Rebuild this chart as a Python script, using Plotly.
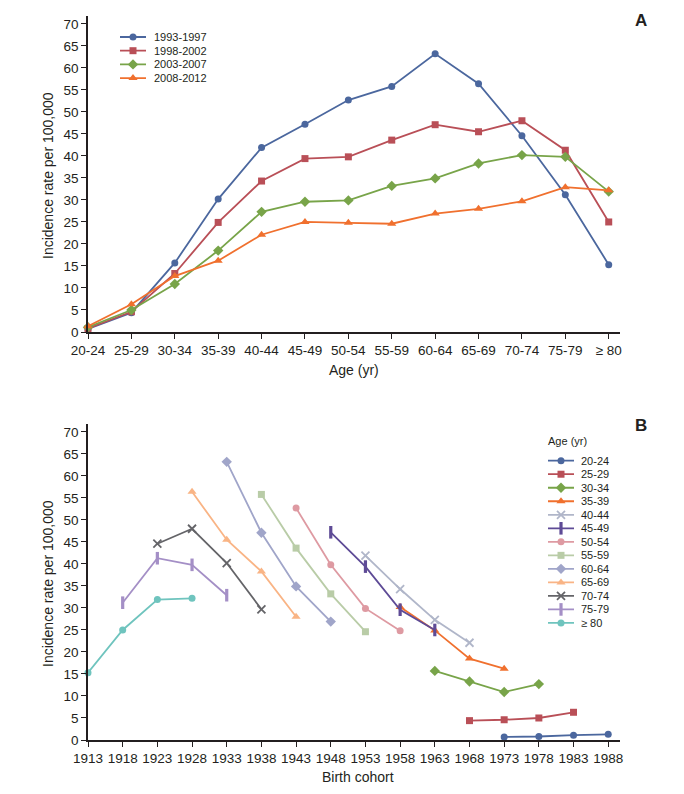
import plotly.graph_objects as go

W, H = 684, 794
FONT = "Liberation Sans, Arial, sans-serif"
AXIS_COLOR = "#231f20"
TEXT_COLOR = "#231f20"

# ---------------- Panel A data ----------------
age_groups = ["20-24", "25-29", "30-34", "35-39", "40-44", "45-49", "50-54",
              "55-59", "60-64", "65-69", "70-74", "75-79", "≥ 80"]
period_labels = ["1993-1997", "1998-2002", "2003-2007", "2008-2012"]
rate_1993_1997 = [0.7, 4.4, 15.7, 30.2, 41.9, 47.2, 52.7, 55.8, 63.2, 56.4, 44.6, 31.2, 15.3]
rate_1998_2002 = [0.8, 4.6, 13.3, 24.9, 34.3, 39.4, 39.8, 43.6, 47.1, 45.5, 48.0, 41.3, 25.0]
rate_2003_2007 = [1.1, 5.0, 10.9, 18.5, 27.3, 29.6, 29.9, 33.2, 34.9, 38.3, 40.2, 39.8, 31.9]
rate_2008_2012 = [1.3, 6.3, 12.7, 16.2, 22.1, 25.0, 24.8, 24.6, 26.9, 28.0, 29.7, 32.9, 32.2]
y_ticks = [0, 5, 10, 15, 20, 25, 30, 35, 40, 45, 50, 55, 60, 65, 70]

# ---------------- Panel B data ----------------
cohort_ticks = [1913, 1918, 1923, 1928, 1933, 1938, 1943, 1948, 1953, 1958,
                1963, 1968, 1973, 1978, 1983, 1988]
age_legend = ["20-24", "25-29", "30-34", "35-39", "40-44", "45-49", "50-54",
              "55-59", "60-64", "65-69", "70-74", "75-79", "≥ 80"]
cohort_20_24 = [1973, 1978, 1983, 1988]
rate_20_24 = [0.7, 0.8, 1.1, 1.3]
cohort_25_29 = [1968, 1973, 1978, 1983]
rate_25_29 = [4.4, 4.6, 5.0, 6.3]
cohort_30_34 = [1963, 1968, 1973, 1978]
rate_30_34 = [15.7, 13.3, 10.9, 12.7]
cohort_35_39 = [1958, 1963, 1968, 1973]
rate_35_39 = [30.2, 24.9, 18.5, 16.2]
cohort_40_44 = [1953, 1958, 1963, 1968]
rate_40_44 = [41.9, 34.3, 27.3, 22.1]
cohort_45_49 = [1948, 1953, 1958, 1963]
rate_45_49 = [47.2, 39.4, 29.6, 25.0]
cohort_50_54 = [1943, 1948, 1953, 1958]
rate_50_54 = [52.7, 39.8, 29.9, 24.8]
cohort_55_59 = [1938, 1943, 1948, 1953]
rate_55_59 = [55.8, 43.6, 33.2, 24.6]
cohort_60_64 = [1933, 1938, 1943, 1948]
rate_60_64 = [63.2, 47.1, 34.9, 26.9]
cohort_65_69 = [1928, 1933, 1938, 1943]
rate_65_69 = [56.4, 45.5, 38.3, 28.0]
cohort_70_74 = [1923, 1928, 1933, 1938]
rate_70_74 = [44.6, 48.0, 40.2, 29.7]
cohort_75_79 = [1918, 1923, 1928, 1933]
rate_75_79 = [31.2, 41.3, 39.8, 32.9]
cohort_80 = [1913, 1918, 1923, 1928]
rate_80 = [15.3, 25.0, 31.9, 32.2]

# ---------------- styles ----------------
period_styles = [
    dict(color="#4b679e", symbol="circle", size=7, lw=0),
    dict(color="#b94f57", symbol="square", size=7, lw=0),
    dict(color="#78a449", symbol="diamond", size=8, lw=0),
    dict(color="#f0702e", symbol="triangle-up", size=8, lw=0),
]
age_styles = [
    dict(color="#4b679e", symbol="circle", size=7, lw=0),
    dict(color="#b94f57", symbol="square", size=7, lw=0),
    dict(color="#78a449", symbol="diamond", size=8, lw=0),
    dict(color="#f0702e", symbol="triangle-up", size=8, lw=0),
    dict(color="#b0b6c9", symbol="x-thin", size=8, lw=1.8),
    dict(color="#5e4b96", symbol="line-ns", size=9, lw=3.2),
    dict(color="#de9aa2", symbol="circle", size=7, lw=0),
    dict(color="#b9cca7", symbol="square", size=7, lw=0),
    dict(color="#a0a5c9", symbol="diamond", size=8, lw=0),
    dict(color="#f9b485", symbol="triangle-up", size=8, lw=0),
    dict(color="#646468", symbol="x-thin", size=8, lw=1.8),
    dict(color="#a48fc6", symbol="line-ns", size=9, lw=3.2),
    dict(color="#6fc4be", symbol="circle", size=7, lw=0),
]


def marker_of(st, opacity=None):
    m = dict(symbol=st["symbol"], size=st["size"], color=st["color"],
             line=dict(width=st["lw"], color=st["color"]))
    if opacity is not None:
        m["opacity"] = opacity
    return m


def px_x(p):
    return p / W


def px_y(p):
    return 1 - p / H


fig = go.Figure()

# ---------------- Panel A traces ----------------
period_rates = [rate_1993_1997, rate_1998_2002, rate_2003_2007, rate_2008_2012]
for name, rates, st in zip(period_labels, period_rates, period_styles):
    fig.add_trace(go.Scatter(
        x=age_groups, y=rates, name=name, mode="lines+markers",
        line=dict(color=st["color"], width=1.8), marker=marker_of(st),
        xaxis="x", yaxis="y", cliponaxis=False, showlegend=False))

# ---------------- Panel B traces ----------------
cohort_series = [
    (cohort_20_24, rate_20_24), (cohort_25_29, rate_25_29), (cohort_30_34, rate_30_34),
    (cohort_35_39, rate_35_39), (cohort_40_44, rate_40_44), (cohort_45_49, rate_45_49),
    (cohort_50_54, rate_50_54), (cohort_55_59, rate_55_59), (cohort_60_64, rate_60_64),
    (cohort_65_69, rate_65_69), (cohort_70_74, rate_70_74), (cohort_75_79, rate_75_79),
    (cohort_80, rate_80),
]
for name, (cx, cy), st in zip(age_legend, cohort_series, age_styles):
    fig.add_trace(go.Scatter(
        x=cx, y=cy, name=name, mode="lines+markers",
        line=dict(color=st["color"], width=1.8), marker=marker_of(st),
        xaxis="x2", yaxis="y2", cliponaxis=False, showlegend=False))

# ---------------- custom legends (compact rows) ----------------
annotations = []
legend_font = dict(family=FONT, size=11, color=TEXT_COLOR)
TOP_ROW0, TOP_STEP = 29.0, 13.7
BOT_ROW0, BOT_STEP = 452.7, 13.52

for i, (name, st) in enumerate(zip(period_labels, period_styles)):
    fig.add_trace(go.Scatter(
        x=[0, 0.5, 1], y=[i, i, i], mode="lines+markers",
        line=dict(color=st["color"], width=1.8),
        marker=marker_of(st, opacity=[0, 1, 0]),
        xaxis="x3", yaxis="y3", cliponaxis=False, showlegend=False, hoverinfo="skip"))
    annotations.append(dict(x=px_x(144), y=px_y(TOP_ROW0 + i * TOP_STEP),
                            xref="paper", yref="paper", text=name,
                            showarrow=False, xanchor="left", yanchor="middle",
                            font=legend_font))

for i, (name, st) in enumerate(zip(age_legend, age_styles)):
    fig.add_trace(go.Scatter(
        x=[0, 0.5, 1], y=[i, i, i], mode="lines+markers",
        line=dict(color=st["color"], width=1.8),
        marker=marker_of(st, opacity=[0, 1, 0]),
        xaxis="x4", yaxis="y4", cliponaxis=False, showlegend=False, hoverinfo="skip"))
    annotations.append(dict(x=px_x(571), y=px_y(BOT_ROW0 + i * BOT_STEP),
                            xref="paper", yref="paper", text=name,
                            showarrow=False, xanchor="left", yanchor="middle",
                            font=legend_font))

annotations.append(dict(x=px_x(538), y=px_y(433), xref="paper", yref="paper",
                        text="Age (yr)", showarrow=False, xanchor="left", yanchor="middle",
                        font=legend_font))

# axis titles and panel letters
title_font = dict(family=FONT, size=14, color=TEXT_COLOR)
annotations += [
    dict(x=px_x(40), y=px_y(168), xref="paper", yref="paper", text="Incidence rate per 100,000",
         textangle=-90, showarrow=False, xanchor="center", yanchor="middle", font=title_font),
    dict(x=px_x(40), y=px_y(576), xref="paper", yref="paper", text="Incidence rate per 100,000",
         textangle=-90, showarrow=False, xanchor="center", yanchor="middle", font=title_font),
    dict(x=px_x(346), y=px_y(362), xref="paper", yref="paper", text="Age (yr)",
         showarrow=False, xanchor="center", yanchor="middle", font=title_font),
    dict(x=px_x(350), y=px_y(769), xref="paper", yref="paper", text="Birth cohort",
         showarrow=False, xanchor="center", yanchor="middle", font=title_font),
    dict(x=px_x(633), y=px_y(13), xref="paper", yref="paper", text="<b>A</b>",
         showarrow=False, xanchor="center", yanchor="middle",
         font=dict(family=FONT, size=17, color=TEXT_COLOR)),
    dict(x=px_x(633), y=px_y(417), xref="paper", yref="paper", text="<b>B</b>",
         showarrow=False, xanchor="center", yanchor="middle",
         font=dict(family=FONT, size=17, color=TEXT_COLOR)),
]

tick_font = dict(family=FONT, size=13.5, color=TEXT_COLOR)
common_axis = dict(showline=True, linecolor=AXIS_COLOR, linewidth=1.5, showgrid=False,
                   zeroline=False, ticks="outside", ticklen=5, tickwidth=1.3,
                   tickcolor=AXIS_COLOR, tickfont=tick_font, fixedrange=True,
                   automargin=False, tickangle=0)
hidden_axis = dict(visible=False, fixedrange=True, automargin=False,
                   showgrid=False, zeroline=False)

plot_x_domain = [px_x(80), px_x(612)]

fig.update_layout(
    template="none",
    width=W, height=H, autosize=False,
    margin=dict(l=0, r=0, t=0, b=0, pad=0),
    paper_bgcolor="white", plot_bgcolor="white",
    font=dict(family=FONT, color=TEXT_COLOR),
    showlegend=False,
    xaxis=dict(domain=plot_x_domain, anchor="y", type="category",
               categoryorder="array", categoryarray=age_groups,
               range=[0, 12.26], **common_axis),
    yaxis=dict(domain=[px_y(324), px_y(8)], anchor="x", range=[0, 71.8],
               tickvals=y_ticks, **common_axis),
    xaxis2=dict(domain=plot_x_domain, anchor="y2", range=[1913, 1989.7],
                tickvals=cohort_ticks, **common_axis),
    yaxis2=dict(domain=[px_y(732), px_y(416)], anchor="x2", range=[0, 71.8],
                tickvals=y_ticks, **common_axis),
    xaxis3=dict(domain=[px_x(112), px_x(138)], anchor="y3", range=[0, 1], **hidden_axis),
    yaxis3=dict(domain=[px_y(TOP_ROW0 - TOP_STEP / 2 + 4 * TOP_STEP),
                        px_y(TOP_ROW0 - TOP_STEP / 2)],
                anchor="x3", range=[3.5, -0.5], **hidden_axis),
    xaxis4=dict(domain=[px_x(540), px_x(566)], anchor="y4", range=[0, 1], **hidden_axis),
    yaxis4=dict(domain=[px_y(BOT_ROW0 - BOT_STEP / 2 + 13 * BOT_STEP),
                        px_y(BOT_ROW0 - BOT_STEP / 2)],
                anchor="x4", range=[12.5, -0.5], **hidden_axis),
    annotations=annotations,
)

fig.write_html("out.html")
